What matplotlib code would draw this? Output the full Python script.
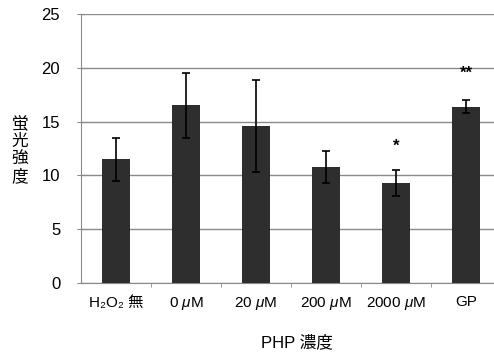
import matplotlib.pyplot as plt

plt.rcParams['font.family'] = ['Liberation Sans', 'Noto Sans CJK JP', 'DejaVu Sans']
plt.rcParams['mathtext.fontset'] = 'custom'
plt.rcParams['mathtext.rm'] = 'Liberation Sans'
plt.rcParams['mathtext.it'] = 'Liberation Sans:italic'

# 各群の蛍光強度 (平均値と標準偏差)
groups = ['H₂O₂ 無', r'0 $\mu$M', r'20 $\mu$M', r'200 $\mu$M', r'2000 $\mu$M', 'GP']
means = [11.5, 16.5, 14.6, 10.8, 9.3, 16.4]
errors = [2.0, 3.0, 4.3, 1.5, 1.2, 0.6]
marks = ['', '', '', '', '*', '**']
mark_y = [0, 0, 0, 0, 12.7, 19.5]

fig = plt.figure(figsize=(4.94, 3.55), dpi=100)
ax = fig.add_axes([81 / 494, 72 / 355, 413 / 494, 269 / 355])

x = range(len(groups))
ax.bar(x, means, width=0.41, color='#2e2e2e', zorder=3)
ax.errorbar(x, means, yerr=errors, fmt='none', ecolor='black',
            elinewidth=1.2, capsize=3, capthick=1.2, zorder=4)

for i, m in enumerate(marks):
    if m:
        ax.text(i, mark_y[i], m, ha='center', va='center', fontsize=12,
                fontweight='bold', zorder=5)

ax.set_xlim(-0.5, 5.4)
ax.set_ylim(0, 25)
ax.set_yticks(range(0, 26, 5))
ax.set_xticks(list(x))
ax.set_xticklabels(groups, fontsize=11)
ax.set_xticks([i + 0.5 for i in range(5)], minor=True)
ax.tick_params(axis='x', which='major', length=0, pad=9)
ax.tick_params(axis='x', which='minor', length=3, color='#888888', direction='out')
ax.tick_params(axis='y', length=6, color='#888888', direction='inout',
               labelsize=12, pad=12)
ax.grid(axis='y', color='#8a8a8a', linewidth=1.0, zorder=0)

for side in ['top', 'right']:
    ax.spines[side].set_visible(False)
for side in ['left', 'bottom']:
    ax.spines[side].set_color('#8a8a8a')

# 縦書きの軸ラベル
ylab = ['蛍', '光', '強', '度']
for k, ch in enumerate(ylab):
    fig.text(20 / 494, 1 - (124 + 17.5 * k) / 355, ch, ha='center', va='center',
             fontsize=12)
fig.text(297 / 494, 1 - 342 / 355, 'PHP 濃度', ha='center', va='center', fontsize=12)

plt.savefig('out.png', dpi=100)
